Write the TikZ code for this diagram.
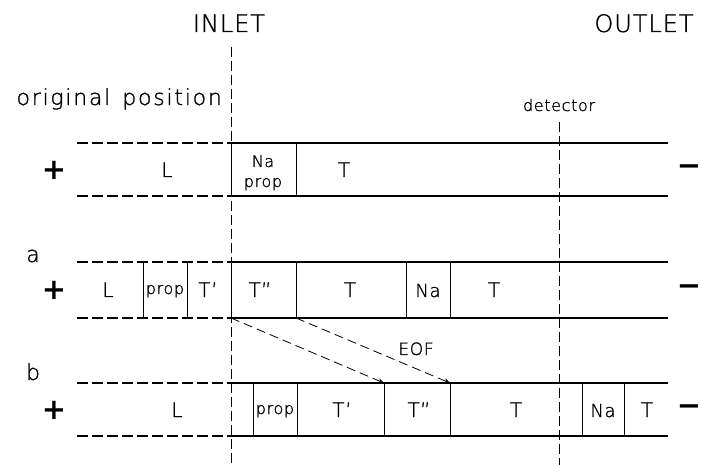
\documentclass[tikz,border=0pt]{standalone}
\usepackage{fontspec}
\IfFontExistsTF{DejaVu Sans ExtraLight}
  {\setmainfont{DejaVu Sans ExtraLight}[LetterSpace=4,FakeBold=1.2]}
  {\setmainfont{DejaVu Sans}[LetterSpace=4]}
\newfontfamily\heavy{DejaVu Sans Bold}
\usetikzlibrary{arrows.meta}
\tikzset{
  txt/.style={inner sep=0pt, anchor=base},
  big/.style={txt, font=\fontsize{24}{28}\selectfont},
  mid/.style={txt, font=\fontsize{20}{24}\selectfont},
  sml/.style={txt, font=\fontsize{16}{19}\selectfont},
  nal/.style={txt, font=\fontsize{18}{21}\selectfont},
  sign/.style={inner sep=0pt, anchor=center, font=\heavy\fontsize{29}{31}\selectfont},
  rowsolid/.style={line width=1.6pt},
  rowdash/.style={line width=2.2pt, dash pattern=on 11pt off 4pt},
  vdash/.style={line width=0.8pt, dash pattern=on 10pt off 4pt},
  divider/.style={line width=0.9pt},
  eof/.style={line width=0.8pt, dash pattern=on 9pt off 5pt, -{Stealth[length=6pt,width=5pt,open]}}
}
\begin{document}
\begin{tikzpicture}[x=1pt,y=-1pt]
\useasboundingbox[fill=white] (0,0) rectangle (702,465);

% headings
\node[big] (inlet) at (229,32) {INLET};
\node[big] (outlet) at (644,32) {OUTLET};
\node[txt, anchor=base east, font=\fontsize{22}{26}\selectfont\addfontfeature{LetterSpace=8}] (orig) at (222,105) {original\hspace{12pt}position};
\node[sml] (det) at (559,111) {detector};

% vertical reference lines
\coordinate (inTop) at (231,47);
\coordinate (inBot) at (231,465);
\coordinate (detTop) at (559,122);
\coordinate (detBot) at (559,465);
\draw[vdash] (inTop) -- (inBot);
\draw[vdash] (detTop) -- (detBot);

% rows
\foreach \yt/\yb in {143/196, 262/318, 383/436} {
  \draw[rowdash] (77,\yt) -- (231,\yt);
  \draw[rowdash] (77,\yb) -- (231,\yb);
  \draw[rowsolid] (231,\yt) -- (668,\yt);
  \draw[rowsolid] (231,\yb) -- (668,\yb);
}

% dividers row 0
\foreach \x in {231,296} \draw[divider] (\x,143) -- (\x,196);
% dividers row a
\foreach \x in {143,187,231,296,406,450} \draw[divider] (\x,262) -- (\x,318);
% dividers row b
\foreach \x in {253,297,384,450,582,624} \draw[divider] (\x,383) -- (\x,436);

% signs
\node[sign] (p0) at (54,170) {+};
\node[sign] (pa) at (54,290) {+};
\node[sign] (pb) at (54,410) {+};
\node[sign] (m0) at (689,170) {−};
\node[sign] (ma) at (689,290) {−};
\node[sign] (mb) at (689,410) {−};

% row labels
\node[txt, font=\fontsize{22}{26}\selectfont] (la) at (33,262) {a};
\node[txt, font=\fontsize{22}{26}\selectfont] (lb) at (33,380) {b};

% row 0 contents
\node[mid] (r0L) at (167,177) {L};
\node[sml] (r0Na) at (263,167) {Na};
\node[sml] (r0prop) at (263,187) {prop};
\node[mid] (r0T) at (344,177) {T};

% row a contents
\node[mid] (aL) at (108,297) {L};
\node[sml] (aprop) at (165,294) {prop};
\node[mid] (aT1) at (208,297) {T’};
\node[mid] (aT2) at (260,297) {T”};
\node[mid] (aT) at (350,297) {T};
\node[nal] (aNa) at (428,297) {Na};
\node[mid] (aT3) at (494,297) {T};

% row b contents
\node[mid] (bL) at (177,417) {L};
\node[sml] (bprop) at (275,414) {prop};
\node[mid] (bT1) at (342,417) {T’};
\node[mid] (bT2) at (419,417) {T”};
\node[mid] (bT) at (516,417) {T};
\node[nal] (bNa) at (603,417) {Na};
\node[mid] (bT3) at (647,417) {T};

% EOF arrows
\coordinate (ea1) at (231,318);
\coordinate (eb1) at (384,383);
\coordinate (ea2) at (296,318);
\coordinate (eb2) at (450,383);
\draw[eof] (ea1) -- (eb1);
\draw[eof] (ea2) -- (eb2);
\node[txt, font=\fontsize{17}{20}\selectfont] (eoflbl) at (416,355) {EOF};
\end{tikzpicture}
\end{document}
